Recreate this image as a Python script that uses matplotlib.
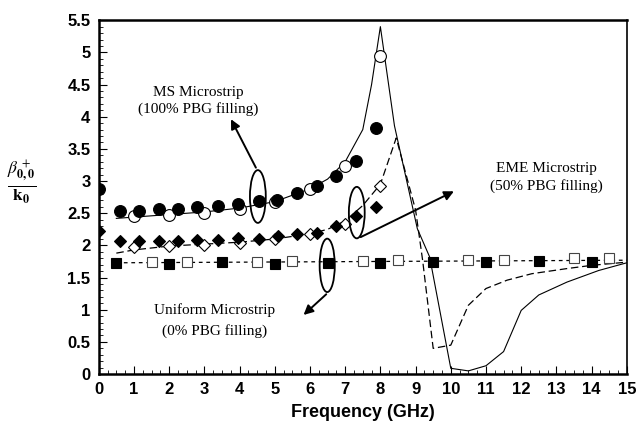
import matplotlib
matplotlib.use("Agg")
import matplotlib.pyplot as plt
from matplotlib.patches import Ellipse
from matplotlib.ticker import MultipleLocator

plt.rcParams['mathtext.fontset'] = 'stix'

# ---- data ----
ms_line_x = [0.5, 1, 2, 3, 4, 5, 6, 6.5, 7, 7.5, 7.75, 8, 8.4, 9.05, 9.4, 10, 10.5, 11, 11.5, 12, 12.5, 13.3, 14.2, 15]
ms_line_y = [2.42, 2.44, 2.48, 2.52, 2.58, 2.68, 2.88, 3.03, 3.3, 3.8, 4.5, 5.4, 3.86, 2.26, 1.82, 0.09, 0.05, 0.13, 0.35, 0.99, 1.23, 1.43, 1.61, 1.73]

eme_line_x = [0.5, 1, 2, 3, 4, 5, 6, 6.5, 7, 7.5, 8, 8.45, 9.0, 9.2, 9.5, 10.0, 10.5, 11, 11.6, 12.3, 13.3, 14, 15]
eme_line_y = [1.88, 1.93, 1.99, 2.02, 2.05, 2.10, 2.18, 2.25, 2.38, 2.62, 2.95, 3.67, 2.55, 1.77, 0.40, 0.45, 1.07, 1.33, 1.46, 1.56, 1.64, 1.69, 1.74]

uni_line_x = [0.5, 15]
uni_line_y = [1.73, 1.77]

ms_filled_x = [0, 0.6, 1.15, 1.7, 2.25, 2.8, 3.4, 3.95, 4.55, 5.05, 5.63, 6.2, 6.75, 7.3, 7.87]
ms_filled_y = [2.87, 2.54, 2.54, 2.56, 2.57, 2.59, 2.62, 2.65, 2.69, 2.70, 2.82, 2.92, 3.08, 3.31, 3.83]
ms_open_x = [1, 2, 3, 4, 5, 6, 7, 8]
ms_open_y = [2.45, 2.47, 2.51, 2.57, 2.68, 2.87, 3.23, 4.94]

eme_filled_x = [0, 0.6, 1.15, 1.7, 2.25, 2.8, 3.4, 3.95, 4.55, 5.08, 5.63, 6.2, 6.75, 7.32, 7.87]
eme_filled_y = [2.23, 2.07, 2.07, 2.07, 2.07, 2.08, 2.09, 2.12, 2.10, 2.15, 2.18, 2.19, 2.30, 2.45, 2.59]
eme_open_x = [1, 2, 3, 4, 5, 6, 7, 8]
eme_open_y = [1.97, 1.99, 2.00, 2.04, 2.10, 2.17, 2.33, 2.93]

uni_filled_x = [0.5, 2, 3.5, 5, 6.5, 8, 9.5, 11, 12.5, 14]
uni_filled_y = [1.72, 1.71, 1.74, 1.71, 1.73, 1.72, 1.74, 1.74, 1.76, 1.74]
uni_open_x = [1.5, 2.5, 4.5, 5.5, 7.5, 8.5, 10.5, 11.5, 13.5, 14.5]
uni_open_y = [1.74, 1.74, 1.74, 1.75, 1.75, 1.77, 1.78, 1.78, 1.80, 1.81]

x_ticks = list(range(0, 16))
y_ticks = [0, 0.5, 1, 1.5, 2, 2.5, 3, 3.5, 4, 4.5, 5, 5.5]
y_tick_labels = ['0', '0.5', '1', '1.5', '2', '2.5', '3', '3.5', '4', '4.5', '5', '5.5']

# ---- figure ----
fig = plt.figure(figsize=(6.37, 4.30), dpi=100)
ax = fig.add_axes([0.155, 0.130, 0.829, 0.823])

ax.plot(ms_line_x, ms_line_y, '-', color='black', lw=0.8)
ax.plot(eme_line_x, eme_line_y, color='black', lw=0.9, dashes=(6, 3))
ax.plot(uni_line_x, uni_line_y, color='black', lw=0.9, dashes=(3, 3))

ms_kw = dict(markersize=8.5, markeredgecolor='black', markeredgewidth=0.8, linestyle='none')
ax.plot(ms_open_x, ms_open_y, 'o', markerfacecolor='white', **ms_kw)
ax.plot(ms_filled_x, ms_filled_y, 'o', markerfacecolor='black', **ms_kw)
ax.plot(eme_open_x, eme_open_y, 'D', markerfacecolor='white', markersize=6.5,
        markeredgecolor='black', markeredgewidth=0.8, linestyle='none')
ax.plot(eme_filled_x, eme_filled_y, 'D', markerfacecolor='black', markersize=6.5,
        markeredgecolor='black', markeredgewidth=0.8, linestyle='none')
ax.plot(uni_open_x, uni_open_y, 's', markerfacecolor='white', markersize=7.5,
        markeredgecolor='#444444', markeredgewidth=0.8, linestyle='none')
ax.plot(uni_filled_x, uni_filled_y, 's', markerfacecolor='black', markersize=7.5,
        markeredgecolor='black', markeredgewidth=0.8, linestyle='none')

# ellipses
for cx, cy, w, h in [(4.52, 2.76, 0.45, 0.82), (7.33, 2.51, 0.45, 0.80), (6.49, 1.69, 0.43, 0.83)]:
    ax.add_patch(Ellipse((cx, cy), w, h, fill=False, edgecolor='black', lw=1.3, zorder=5))

arrow_kw = dict(arrowstyle='-|>', color='black', lw=1.4, mutation_scale=14)
ax.annotate('', xy=(3.72, 4.0), xytext=(4.50, 3.17), arrowprops=arrow_kw)
ax.annotate('', xy=(10.16, 2.86), xytext=(7.37, 2.11), arrowprops=arrow_kw)
ax.annotate('', xy=(5.76, 0.89), xytext=(6.52, 1.27), arrowprops=arrow_kw)

tfont = dict(family='Liberation Serif', fontsize=11, ha='center', va='center')
ax.text(2.82, 4.38, 'MS Microstrip', **tfont)
ax.text(2.82, 4.12, '(100% PBG filling)', **tfont)
ax.text(12.72, 3.19, 'EME Microstrip', **tfont)
ax.text(12.72, 2.93, '(50% PBG filling)', **tfont)
ax.text(3.30, 1.00, 'Uniform Microstrip', **tfont)
ax.text(3.30, 0.67, '(0% PBG filling)', **tfont)

ax.set_xlim(0, 15)
ax.set_ylim(0, 5.5)
ax.set_xticks(x_ticks)
ax.set_xticklabels([str(t) for t in x_ticks])
ax.set_yticks(y_ticks)
ax.set_yticklabels(y_tick_labels)
ax.xaxis.set_minor_locator(MultipleLocator(0.25))
ax.yaxis.set_minor_locator(MultipleLocator(0.1))
ax.tick_params(which='both', direction='in', top=False, right=False)
ax.tick_params(which='major', length=6, width=0.8, pad=6)
ax.tick_params(which='minor', length=3, width=0.6)
for lab in ax.get_xticklabels() + ax.get_yticklabels():
    lab.set_fontfamily('Liberation Sans')
    lab.set_fontweight('bold')
    lab.set_fontsize(12)

for side in ['left', 'bottom', 'top']:
    ax.spines[side].set_linewidth(1.8)
ax.spines['right'].set_linewidth(1.2)

ax.set_xlabel('Frequency (GHz)', fontfamily='Liberation Sans', fontweight='bold', fontsize=13, labelpad=5)

fig.text(0.034, 0.575, r'$\frac{\mathit{\beta}^{\,+}_{\mathbf{0,0}}}{\mathbf{k}_{\mathbf{0}}}$', fontsize=18, ha='center', va='center')

fig.savefig('out.png', dpi=100)
